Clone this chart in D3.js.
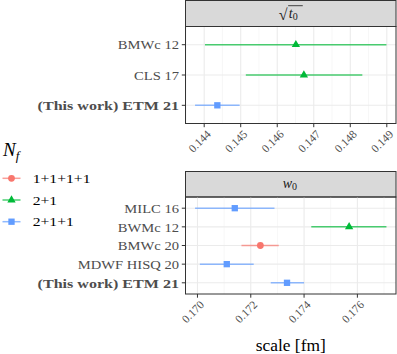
<!DOCTYPE html>
<html><head><meta charset="utf-8">
<script src="https://cdn.jsdelivr.net/npm/d3@7"></script>
<style>
html,body{margin:0;padding:0;background:#fff;}
svg{display:block;}
svg text{font-family:"Liberation Serif","Times New Roman",serif;}
</style></head>
<body><svg id="c" width="397" height="354"></svg>
<script>
// ---- data ----
const t0Labels = ["BMWc 12", "CLS 17", "(This work) ETM 21"];
const t0Center = [0.14651, 0.14673, 0.14436];
const t0Lo     = [0.14402, 0.14514, 0.14375];
const t0Hi     = [0.14899, 0.14833, 0.14497];
const t0Nf     = ["2+1", "2+1", "2+1+1"];
const t0Ticks  = [0.144, 0.145, 0.146, 0.147, 0.148, 0.149];

const w0Labels = ["MILC 16", "BWMc 12", "BMWc 20", "MDWF HISQ 20", "(This work) ETM 21"];
const w0Center = [0.1714, 0.17569, 0.17236, 0.1711, 0.17336];
const w0Lo     = [0.16991, 0.17427, 0.17165, 0.17009, 0.17275];
const w0Hi     = [0.17289, 0.17709, 0.17305, 0.17211, 0.174];
const w0Nf     = ["2+1+1", "2+1", "1+1+1+1", "2+1+1", "2+1+1"];
const w0Ticks  = [0.170, 0.172, 0.174, 0.176];

const nfLevels = ["1+1+1+1", "2+1", "2+1+1"];
const nfColors = ["#F8766D", "#00BA38", "#619CFF"];
const nfShapes = [d3.symbolCircle, d3.symbolTriangle, d3.symbolSquare];
const nfSizes  = [36, 30, 40];

// ---- setup ----
const FONT = "'Liberation Serif', serif";
const svg = d3.select("#c").attr("font-family", FONT);
const color = d3.scaleOrdinal(nfLevels, nfColors);
const shape = d3.scaleOrdinal(nfLevels, nfShapes);
const ssize = d3.scaleOrdinal(nfLevels, nfSizes);
const PL = 185.5, PR = 396;
const gray30 = "#4D4D4D", gray20 = "#333333";

function scaledText(g, x, y, txt, sx, opts) {
  const t = g.append("text")
    .attr("transform", `translate(${x},${y}) scale(${sx},1)`)
    .attr("font-family", FONT)
    .text(txt);
  for (const k in opts) t.attr(k, opts[k]);
  return t;
}

function panel(cfg) {
  const {stripTop, stripBot, panBot, labels, center, lo, hi, nf, ticks, minorStep, stripFn} = cfg;
  const ext = [d3.min(lo), d3.max(hi)];
  const pad = (ext[1] - ext[0]) * 0.05;
  const x = d3.scaleLinear().domain([ext[0] - pad, ext[1] + pad]).range([PL, PR]);
  const y = d3.scalePoint().domain(labels).range([stripBot, panBot]).padding(0.6);
  const g = svg.append("g");

  // strip
  g.append("rect").attr("x", PL).attr("y", stripTop).attr("width", PR - PL).attr("height", stripBot - stripTop)
    .attr("fill", "#D9D9D9").attr("stroke", gray20).attr("stroke-width", 1);
  stripFn(g, (PL + PR) / 2, (stripTop + stripBot) / 2);

  // grid
  const minor = d3.range(Math.ceil(x.domain()[0] / minorStep) * minorStep, x.domain()[1], minorStep)
    .filter(v => !ticks.some(t => Math.abs(t - v) < minorStep / 10));
  g.selectAll(".mg").data(minor).join("line")
    .attr("x1", d => x(d)).attr("x2", d => x(d)).attr("y1", stripBot).attr("y2", panBot)
    .attr("stroke", "#F2F2F2").attr("stroke-width", 0.6);
  g.selectAll(".Mg").data(ticks).join("line")
    .attr("x1", d => x(d)).attr("x2", d => x(d)).attr("y1", stripBot).attr("y2", panBot)
    .attr("stroke", "#EBEBEB").attr("stroke-width", 1.1);
  g.selectAll(".hg").data(labels).join("line")
    .attr("x1", PL).attr("x2", PR).attr("y1", d => y(d)).attr("y2", d => y(d))
    .attr("stroke", "#EBEBEB").attr("stroke-width", 1.1);

  // data
  const idx = d3.range(labels.length);
  g.selectAll(".eb").data(idx).join("line")
    .attr("x1", i => x(lo[i])).attr("x2", i => x(hi[i]))
    .attr("y1", i => y(labels[i])).attr("y2", i => y(labels[i]))
    .attr("stroke", i => color(nf[i])).attr("stroke-opacity", 0.7).attr("stroke-width", 1.5);
  g.selectAll(".pt").data(idx).join("path")
    .attr("transform", i => `translate(${x(center[i])},${y(labels[i])})`)
    .attr("d", i => d3.symbol(shape(nf[i]), ssize(nf[i]))())
    .attr("fill", i => color(nf[i]));

  // border
  g.append("rect").attr("x", PL).attr("y", stripBot).attr("width", PR - PL).attr("height", panBot - stripBot)
    .attr("fill", "none").attr("stroke", gray20).attr("stroke-width", 1);

  // y ticks + labels
  labels.forEach(l => {
    g.append("line").attr("x1", PL - 3.7).attr("x2", PL).attr("y1", y(l)).attr("y2", y(l))
      .attr("stroke", gray20).attr("stroke-width", 1);
    const bold = l.startsWith("(This work)");
    scaledText(g, PL - 6.5, y(l), l, bold ? 1.19 : 1.08, {
      "text-anchor": "end", "dy": "0.35em", "font-size": "13.5px", "fill": gray30,
      "font-weight": bold ? "bold" : "normal"
    });
  });
  // x ticks + labels
  ticks.forEach(t => {
    g.append("line").attr("x1", x(t)).attr("x2", x(t)).attr("y1", panBot).attr("y2", panBot + 3.7)
      .attr("stroke", gray20).attr("stroke-width", 1);
    g.append("text").attr("transform", `translate(${x(t) + 1.5},${panBot + 5.5}) rotate(-45)`)
      .attr("font-family", FONT)
      .attr("text-anchor", "end").attr("dy", "0.72em").attr("font-size", "11.5px").attr("fill", gray30)
      .text(d3.format(".3f")(t));
  });
}

function sqrtT0(g, cx, cy) {
  const s = g.append("g").attr("transform", `translate(${cx},${cy})`);
  s.append("text").attr("x", -12).attr("y", 6.5).attr("font-size", "16px").attr("font-family", "DejaVu Serif").attr("fill", "#1A1A1A").text("√");
  s.append("line").attr("x1", -2.6).attr("x2", 12).attr("y1", -7.8).attr("y2", -7.8).attr("stroke", "#1A1A1A").attr("stroke-width", 0.8);
  const t = s.append("text").attr("x", -2).attr("y", 4).attr("font-size", "14px").attr("fill", "#1A1A1A").attr("font-family", FONT);
  t.append("tspan").attr("font-style", "italic").text("t");
  t.append("tspan").attr("font-size", "10px").attr("dy", 2).text("0");
}
function w0(g, cx, cy) {
  const t = g.append("text").attr("x", cx - 8).attr("y", cy + 4).attr("font-size", "14px").attr("fill", "#1A1A1A").attr("font-family", FONT);
  t.append("tspan").attr("font-style", "italic").text("w");
  t.append("tspan").attr("font-size", "10px").attr("dy", 2).text("0");
}

panel({stripTop: 0.5, stripBot: 26.5, panBot: 123.5, labels: t0Labels, center: t0Center, lo: t0Lo, hi: t0Hi,
       nf: t0Nf, ticks: t0Ticks, minorStep: 0.0005, stripFn: sqrtT0});
panel({stripTop: 171.5, stripBot: 197, panBot: 294, labels: w0Labels, center: w0Center, lo: w0Lo, hi: w0Hi,
       nf: w0Nf, ticks: w0Ticks, minorStep: 0.001, stripFn: w0});

// axis title
svg.append("text").attr("x", (PL + PR) / 2).attr("y", 351).attr("text-anchor", "middle").attr("font-family", FONT)
  .attr("font-size", "17.4px").attr("fill", "#000").text("scale [fm]");

// legend
const lt = svg.append("text").attr("x", 3).attr("y", 156).attr("font-size", "19px").attr("font-family", FONT);
lt.append("tspan").attr("font-style", "italic").text("N");
lt.append("tspan").attr("font-style", "italic").attr("font-size", "13px").attr("dy", 4).text("f");
const legY = [178.3, 200, 221.7];
nfLevels.forEach((lv, i) => {
  const g = svg.append("g").attr("transform", `translate(0,${legY[i]})`);
  g.append("line").attr("x1", 2.5).attr("x2", 20.5).attr("stroke", color(lv)).attr("stroke-opacity", 0.7).attr("stroke-width", 1.5);
  g.append("path").attr("transform", "translate(11.5,0)").attr("d", d3.symbol(shape(lv), ssize(lv))()).attr("fill", color(lv));
  scaledText(g, 32.7, 0, lv, 1.16, {"dy": "0.35em", "font-size": "13.5px", "fill": "#000"});
});
</script></body></html>
